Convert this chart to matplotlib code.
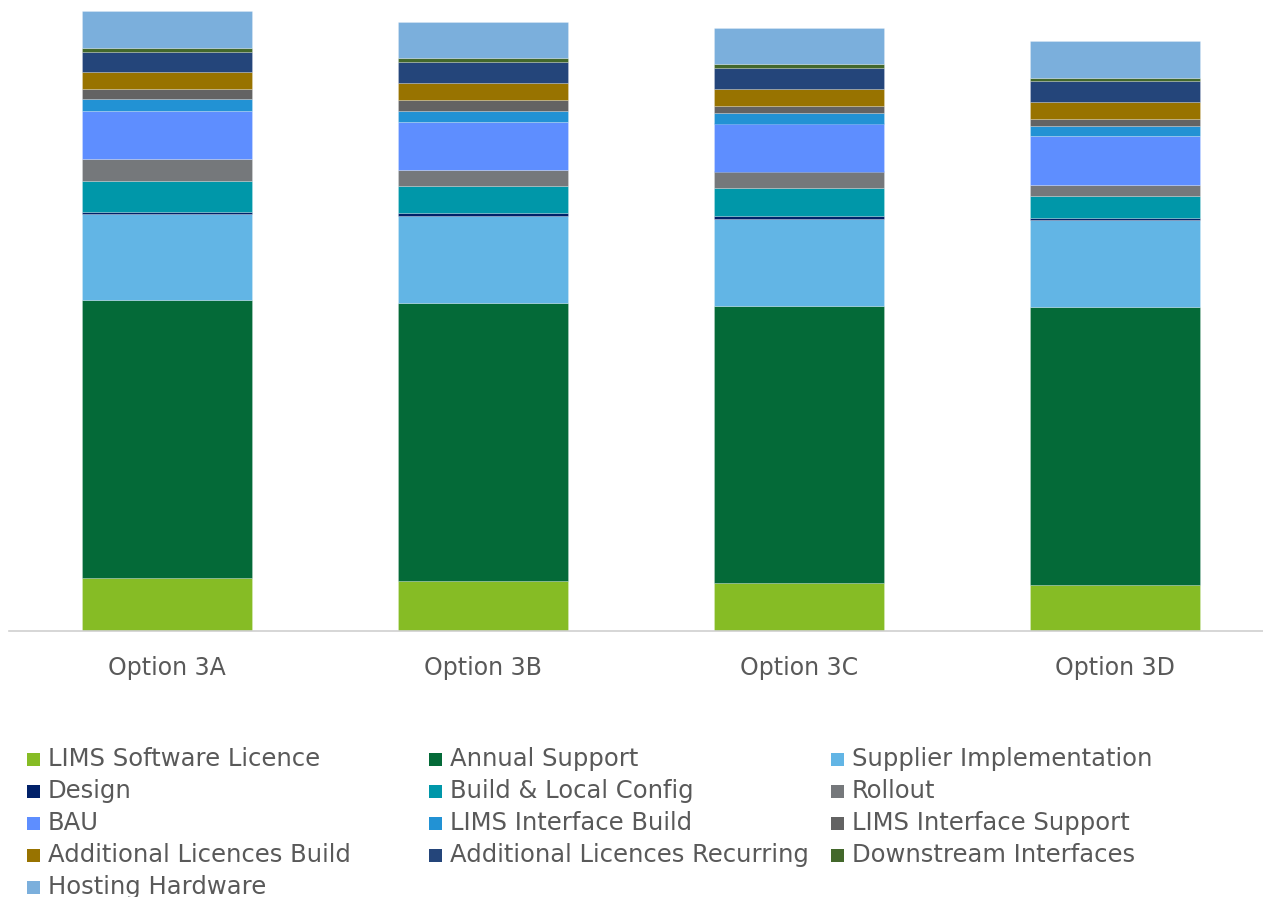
import matplotlib
matplotlib.use("Agg")
import matplotlib.pyplot as plt
from matplotlib.patches import Rectangle
import numpy as np

categories = ["Option 3A", "Option 3B", "Option 3C", "Option 3D"]

series_names = [
    "LIMS Software Licence", "Annual Support", "Supplier Implementation",
    "Design", "Build & Local Config", "Rollout",
    "BAU", "LIMS Interface Build", "LIMS Interface Support",
    "Additional Licences Build", "Additional Licences Recurring", "Downstream Interfaces",
    "Hosting Hardware",
]

lims_software_licence = [53, 50, 48, 46]
annual_support = [278, 278, 277, 278]
supplier_implementation = [86, 87, 87.5, 87]
design = [2.3, 3, 2.3, 2.3]
build_local_config = [30.7, 26.7, 28, 22]
rollout = [21.7, 16, 16.7, 10.3]
bau = [48.3, 48.7, 48, 49.3]
lims_interface_build = [11.7, 10.7, 10.7, 9.7]
lims_interface_support = [10, 11, 7, 7]
additional_licences_build = [17.3, 17.3, 17.3, 17.7]
additional_licences_recurring = [20.3, 20.3, 20.3, 20.3]
downstream_interfaces = [4, 4, 4, 3.7]
hosting_hardware = [36.7, 36.4, 36.4, 36.7]

series_values = [
    lims_software_licence, annual_support, supplier_implementation,
    design, build_local_config, rollout,
    bau, lims_interface_build, lims_interface_support,
    additional_licences_build, additional_licences_recurring, downstream_interfaces,
    hosting_hardware,
]

colors = [
    "#86BC25", "#046A38", "#62B5E5",
    "#012169", "#0097A9", "#75787B",
    "#5E8EFF", "#2292D4", "#636363",
    "#987300", "#24457A", "#43682B",
    "#7BAFDC",
]

W, H = 1263, 897
fig = plt.figure(figsize=(W / 100, H / 100), dpi=100)
ax = fig.add_axes([9 / W, (H - 631) / H, (W - 9) / W, 631 / H])

x = np.arange(len(categories))
bottom = np.zeros(len(categories))
for name, vals, c in zip(series_names, series_values, colors):
    vals = np.array(vals, dtype=float)
    ax.bar(x, vals, width=170 / 316, bottom=bottom, color=c, label=name,
           edgecolor=(1, 1, 1, 0.3), linewidth=0.5)
    bottom += vals

ax.set_xlim(-0.5, (W - 9) / 316 - 0.5)
ax.set_ylim(0, 631)
for s in ["top", "right", "left"]:
    ax.spines[s].set_visible(False)
ax.spines["bottom"].set_color("#d0d0d0")
ax.spines["bottom"].set_linewidth(1.2)
ax.set_yticks([])
ax.set_xticks(x)
ax.set_xticklabels(categories, fontsize=17, color="#595959", family="DejaVu Sans")
ax.tick_params(axis="x", length=0, pad=18)

# legend, row-major, 3 columns
col_x = [27, 429, 831]
row_y0 = 759
row_dy = 32
for i, (name, c) in enumerate(zip(series_names, colors)):
    r, cidx = divmod(i, 3)
    px = col_x[cidx]
    py = row_y0 + r * row_dy
    fig.patches.append(Rectangle((px / W, 1 - (py + 6.5) / H), 13 / W, 13 / H,
                                 transform=fig.transFigure, facecolor=c,
                                 edgecolor="none"))
    fig.text((px + 21) / W, 1 - py / H, name, fontsize=17.5, color="#595959",
             va="center", ha="left", family="DejaVu Sans")

fig.savefig("out.png", dpi=100)
